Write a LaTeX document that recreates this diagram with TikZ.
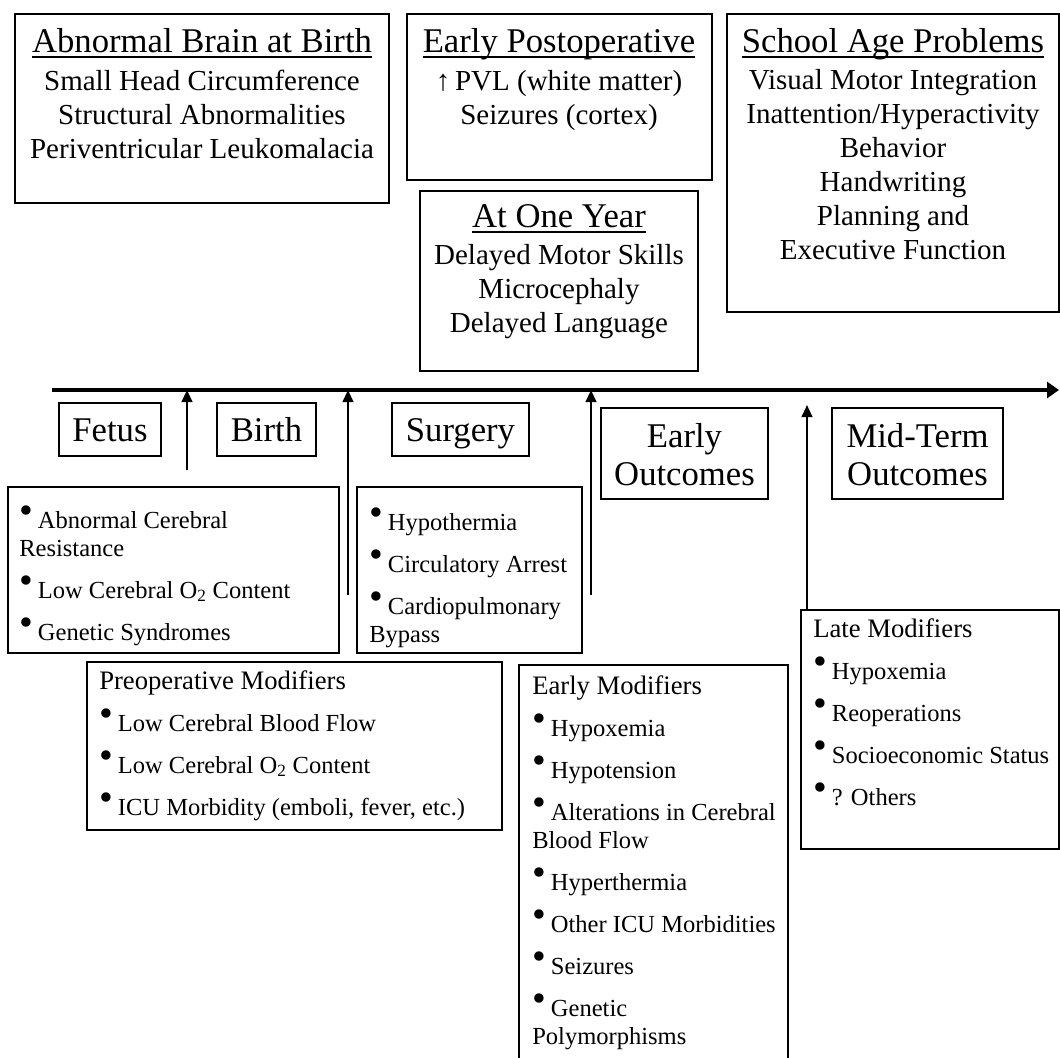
\documentclass[tikz,border=0pt]{standalone}
\usepackage{fontspec}
\setmainfont{Liberation Serif}
\usetikzlibrary{arrows.meta,fit}
\newcommand{\uln}[1]{\setbox0\hbox{#1}\rlap{\rule[-4.3pt]{\wd0}{1.2pt}}\box0}
\newcommand{\headfont}{\fontsize{26}{30}\selectfont}
\newcommand{\bodyfont}{\fontsize{21.75}{25.5}\selectfont}
\newcommand{\listfont}{\fontsize{18.4}{21}\selectfont}
\newcommand{\modfont}{\fontsize{20}{21}\selectfont}
\newcommand{\bul}{\raisebox{.18em}{\scalebox{1.6}{\textbullet}}\hspace{.2em}}
\tikzset{
  panel/.style={draw, line width=1.1pt, inner sep=0pt},
  stage/.style={font=\fontsize{26}{28.5}\selectfont, align=center, anchor=base, inner sep=0pt},
  head/.style={font=\headfont, anchor=base, inner sep=0pt},
  body/.style={font=\bodyfont, align=center, anchor=base, inner sep=0pt},
  items/.style={font=\listfont, align=left, anchor=base west, inner sep=0pt},
  timeline/.style={line width=3pt, -{Triangle[length=9pt,width=12pt]}},
  stagearrow/.style={line width=1.5pt, -{Triangle[length=9pt,width=8pt]}},
}

\begin{document}
\begin{tikzpicture}[x=0.75pt, y=-0.75pt]
\useasboundingbox (0,0) rectangle (1060,1057);

% outcome boxes above the time line (text nodes sit on their last line)
\node[panel, fit={(15,14) (389,203)}] (brain) {};
\node[head] (brainhead) at (202,52) {\uln{Abnormal Brain at Birth}};
\node[body] (braintext) at (202,158) {Small Head Circumference\\Structural Abnormalities\\Periventricular Leukomalacia};

\node[panel, fit={(407,14) (712,180)}] (postop) {};
\node[head] (postophead) at (559,52) {\uln{Early Postoperative}};
\node[body] (postoptext) at (559,124) {↑\,PVL (white matter)\\Seizures (cortex)};

\node[panel, fit={(420,191) (698,371)}] (oneyear) {};
\node[head] (oneyearhead) at (559,227) {\uln{At One Year}};
\node[body] (oneyeartext) at (559,332) {Delayed Motor Skills\\Microcephaly\\Delayed Language};

\node[panel, fit={(727,14) (1059,312)}] (school) {};
\node[head] (schoolhead) at (893,52) {\uln{School Age Problems}};
\node[body] (schooltext) at (893,259) {Visual Motor Integration\\Inattention/Hyperactivity\\Behavior\\Handwriting\\Planning and\\Executive Function};

% time line
\coordinate (tl) at (52,390);
\coordinate (tr) at (1059,390);
\draw[timeline] (tl) -- (tr);

% stages
\node[panel, fit={(59,403) (161,456)}] (fetus) {};
\node[panel, fit={(217,403) (316,456)}] (birth) {};
\node[panel, fit={(392,403) (529,456)}] (surgery) {};
\node[panel, fit={(601,408) (768,499)}] (early) {};
\node[panel, fit={(832,408) (1003,499)}] (midterm) {};
\node[stage] (fetuslabel) at (110,441) {Fetus};
\node[stage] (birthlabel) at (266.5,441) {Birth};
\node[stage] (surgerylabel) at (460.5,441) {Surgery};
\node[stage] (earlylabel) at (684.5,485) {Early\\Outcomes};
\node[stage] (midtermlabel) at (917.5,485) {Mid-Term\\Outcomes};

% arrows up to the time line
\coordinate (a1) at (187,470);
\coordinate (a2) at (348,595);
\coordinate (a3) at (591,595);
\coordinate (a4) at (807,610);
\coordinate (b4) at (807,405);
\draw[stagearrow] (a1) -- (a1 |- tl);
\draw[stagearrow] (a2) -- (a2 |- tl);
\draw[stagearrow] (a3) -- (a3 |- tl);
\draw[stagearrow] (a4) -- (b4);

% risk factors and modifiers
\node[panel, fit={(8,487) (339,653)}] (fetusbox) {};
\node[items] (fetuslist) at (19,640) {\bul Abnormal Cerebral\\Resistance\\[10.5pt]\bul Low Cerebral O\textsubscript{2} Content\\[10.5pt]\bul Genetic Syndromes};

\node[panel, fit={(357,487) (582,653)}] (surgerybox) {};
\node[items] (surgerylist) at (369,642) {\bul Hypothermia\\[10.5pt]\bul Circulatory Arrest\\[10.5pt]\bul Cardiopulmonary\\Bypass};

\node[panel, fit={(87,662) (502,830)}] (preop) {};
\node[items] (preoplist) at (99,815) {{\modfont Preoperative Modifiers}\\[10.5pt]\bul Low Cerebral Blood Flow\\[10.5pt]\bul Low Cerebral O\textsubscript{2} Content\\[10.5pt]\bul ICU Morbidity (emboli, fever, etc.)};

\node[panel, fit={(519,665) (788,1070)}] (earlymod) {};
\node[items] (earlymodlist) at (532,1044) {{\modfont Early Modifiers}\\[10.5pt]\bul Hypoxemia\\[10.5pt]\bul Hypotension\\[10.5pt]\bul Alterations in Cerebral\\Blood Flow\\[10.5pt]\bul Hyperthermia\\[10.5pt]\bul Other ICU Morbidities\\[10.5pt]\bul Seizures\\[10.5pt]\bul Genetic\\Polymorphisms};

\node[panel, fit={(801,610) (1059,849)}] (latemod) {};
\node[items] (latemodlist) at (813,805) {{\modfont Late Modifiers}\\[10.5pt]\bul Hypoxemia\\[10.5pt]\bul Reoperations\\[10.5pt]\bul Socioeconomic Status\\[10.5pt]\bul ? Others};
\end{tikzpicture}
\end{document}
